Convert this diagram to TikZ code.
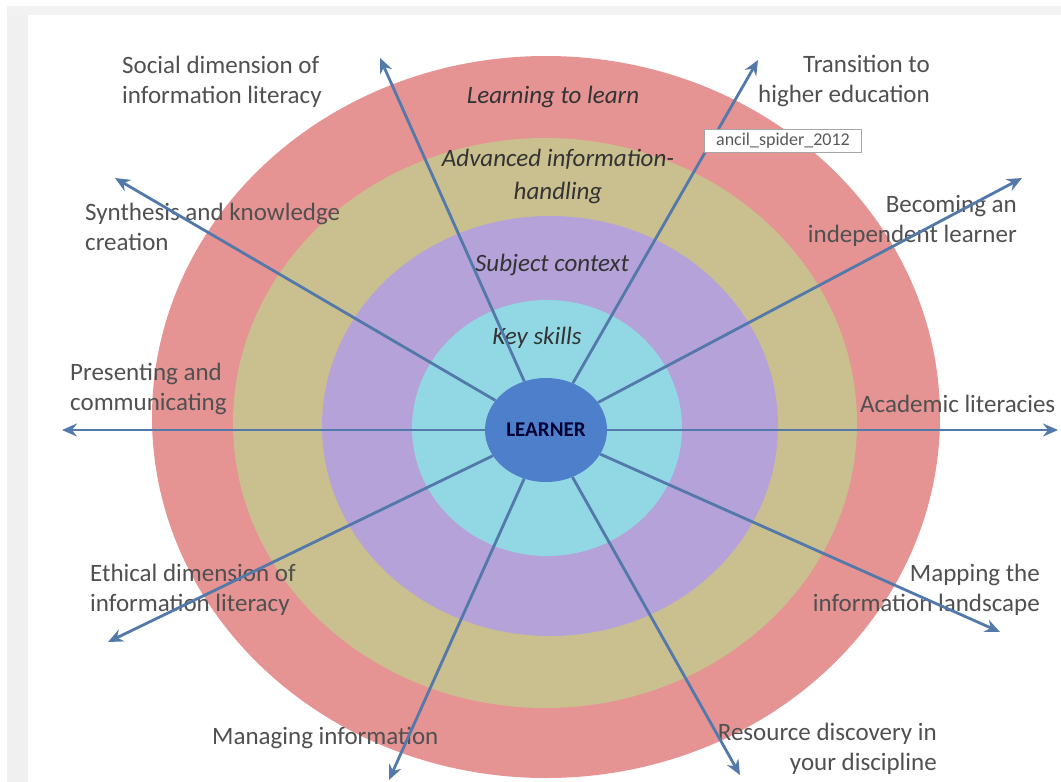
\documentclass[tikz,border=0pt]{standalone}
\usepackage{fontspec}
\setmainfont{Carlito}
\usetikzlibrary{shapes.geometric,arrows.meta}
\definecolor{ringred}{HTML}{E69393}
\definecolor{ringkhaki}{HTML}{CABF8F}
\definecolor{ringpurple}{HTML}{B5A2D8}
\definecolor{ringcyan}{HTML}{92D8E4}
\definecolor{learnerblue}{HTML}{4D7FCB}
\definecolor{arrowblue}{HTML}{5279AA}
\definecolor{labelgray}{HTML}{505050}
\definecolor{ringtext}{HTML}{333333}
\begin{document}
\begin{tikzpicture}[x=1pt,y=-1pt,
  ring/.style={ellipse,inner sep=0pt,draw=none},
  lbl/.style={text=labelgray,font=\fontsize{25}{30}\selectfont,inner sep=0pt},
  lblL/.style={lbl,align=left,anchor=west},
  lblR/.style={lbl,align=right,anchor=east},
  ringlbl/.style={text=ringtext,font=\fontsize{25}{33}\selectfont\itshape,align=center,inner sep=0pt},
  spoke/.style={draw=arrowblue,line width=2.8pt,-{Stealth[length=15pt,width=13pt,inset=5pt]}}]
\useasboundingbox (0,0) rectangle (1061,782);
\fill[white] (0,0) rectangle (1061,782);
\fill[black!6] (7,6) rectangle (28,782);
\fill[black!5] (7,6) rectangle (1061,15);
% rings
\node[ring,fill=ringred,minimum width=788pt,minimum height=722pt] (red) at (546,417) {};
\node[ring,fill=ringkhaki,minimum width=624pt,minimum height=570pt] (khaki) at (545,423) {};
\node[ring,fill=ringpurple,minimum width=456pt,minimum height=420pt] (purple) at (550,426) {};
\node[ring,fill=ringcyan,minimum width=270pt,minimum height=256pt] (cyan) at (547,428) {};
\node[ring,fill=learnerblue,minimum width=122pt,minimum height=104pt,font=\fontsize{21}{24}\selectfont\bfseries,text={black!80!blue}] (L) at (546,430) {LEARNER};
% ring labels
\node[ringlbl] (t1) at (553,97) {Learning to learn};
\node[ringlbl] (t2) at (558,176) {Advanced information-\\handling};
\node[ringlbl] (t3) at (552,265) {Subject context};
\node[ringlbl] (t4) at (537,338) {Key skills};
% outer labels
\node[lblL] (a1) at (122,82) {Social dimension of\\information literacy};
\node[lblR] (a2) at (930,81) {Transition to\\higher education};
\node[lblL] (a3) at (85,227) {Synthesis and knowledge\\creation};
\node[lblR] (a4) at (1017,221) {Becoming an\\independent learner};
\node[lblL] (a5) at (70,389) {Presenting and\\communicating};
\node[lblL] (a6) at (860,404) {Academic literacies};
\node[lblL] (a7) at (90,590) {Ethical dimension of\\information literacy};
\node[lblR] (a8) at (1040,590) {Mapping the\\information landscape};
\node[lblL] (a9) at (212,738) {Managing information};
\node[lblR] (a10) at (937,749) {Resource discovery in\\your discipline};
% arrow tips
\coordinate (e1) at (380,58);
\coordinate (e2) at (758,60);
\coordinate (e3) at (115,178);
\coordinate (e4) at (1022,178);
\coordinate (e5) at (62,430);
\coordinate (e6) at (1058,430);
\coordinate (e7) at (108,642);
\coordinate (e8) at (1000,632);
\coordinate (e9) at (389,780);
\coordinate (e10) at (740,775);
\foreach \i in {1,...,10} { \draw[spoke] (L) -- (e\i); }
% tooltip
\node[draw=black!35,fill=white,line width=0.8pt,text=black!65,font=\fontsize{18}{20}\selectfont,minimum width=157pt,minimum height=23pt,inner sep=2pt] (tip) at (783,141) {ancil\_spider\_2012};
\end{tikzpicture}
\end{document}
